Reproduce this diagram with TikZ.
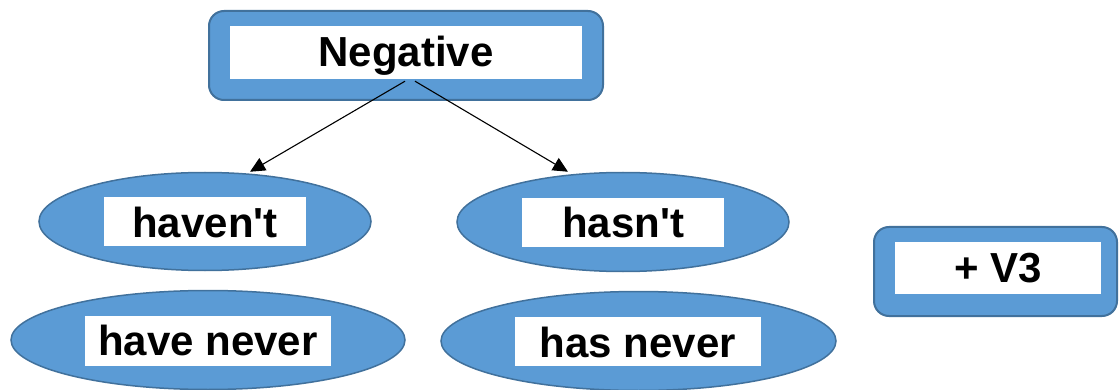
\documentclass[tikz,border=0pt]{standalone}
\usepackage{fontspec}
\setmainfont{Liberation Sans}
\usetikzlibrary{shapes.geometric,arrows.meta}
\definecolor{fillblue}{HTML}{5B9BD5}
\definecolor{edgeblue}{HTML}{41719C}
\begin{document}
\begin{tikzpicture}[x=1pt,y=-1pt,
  outerbox/.style n args={2}{draw=edgeblue,line width=2pt,fill=fillblue,rounded corners=15pt,
    inner sep=0pt,minimum width=#1,minimum height=#2},
  blob/.style n args={2}{ellipse,draw=edgeblue,line width=1.5pt,fill=fillblue,
    inner sep=0pt,minimum width=#1,minimum height=#2},
  lbl/.style n args={3}{fill=white,inner sep=0pt,text=black,
    font=\fontsize{42}{48}\selectfont\bfseries,
    minimum width=#1,text height=#2,text depth=#3},
  link/.style={draw=black,line width=1.1pt,-{Triangle[length=15pt,width=14pt]}}
]
\fill[white] (0,0) rectangle (1119,390);
\useasboundingbox (0,0) rectangle (1119,390);

% outer shapes
\node[outerbox={394pt}{89pt}] (negbox) at (406,55.5) {};
\node[outerbox={243pt}{89pt}] (v3box) at (995.5,271.5) {};
\node[blob={332pt}{98pt}] (havent) at (205,221.5) {};
\node[blob={394pt}{99pt}] (havenever) at (208,340) {};
\node[blob={332pt}{99pt}] (hasnt) at (623,222) {};
\node[blob={395pt}{99pt}] (hasnever) at (638.5,341) {};

% labels
\node[lbl={352pt}{41pt}{12pt}] (negtxt) at (406,52.5) {Negative};
\node[lbl={206pt}{40pt}{12pt}] (v3txt) at (998,268) {+ V3};
\node[lbl={202pt}{40pt}{9pt}] (haventtxt) at (205,221.5) {haven\textquotesingle t};
\node[lbl={246pt}{39pt}{11pt}] (havenevertxt) at (208,341) {have never};
\node[lbl={202pt}{39pt}{10pt}] (hasnttxt) at (623,222.5) {hasn\textquotesingle t};
\node[lbl={246pt}{40pt}{9pt}] (hasnevertxt) at (638,341.5) {has never};

% connectors
\draw[link] ([xshift=-1pt,yshift=-2pt]negtxt.south) -- ([xshift=45pt]havent.north);
\draw[link] ([xshift=9pt,yshift=-2pt]negtxt.south) -- ([xshift=-55pt]hasnt.north);
\end{tikzpicture}
\end{document}
